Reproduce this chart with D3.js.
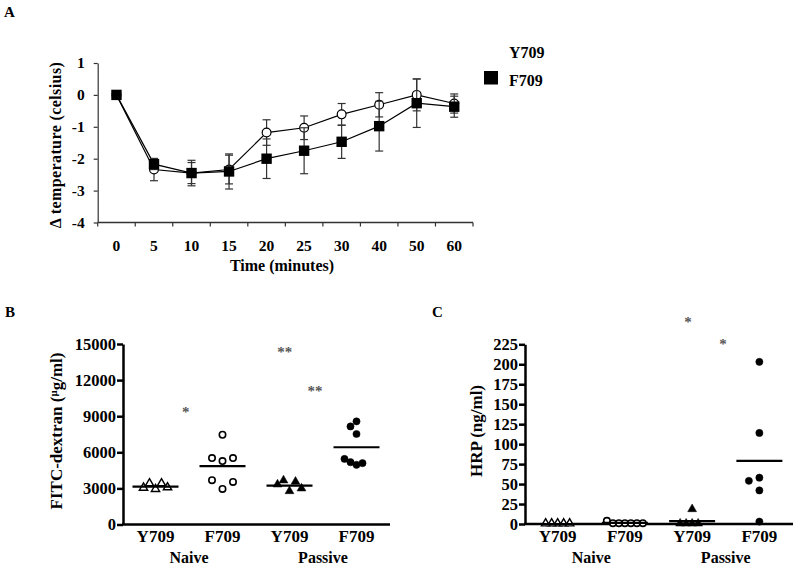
<!DOCTYPE html>
<html><head><meta charset="utf-8">
<script src="https://cdn.jsdelivr.net/npm/d3@7"></script>
<style>
body{margin:0;background:#fff}
text{font-family:"Liberation Serif","Times New Roman",serif;font-weight:bold;fill:#000}
</style>
</head><body>
<svg id="chart" width="800" height="569"></svg>
<script>
// ---------- Panel A data ----------
const timePoints = ["0","5","10","15","20","25","30","40","50","60"];
const y709Mean = [0, -2.34, -2.45, -2.34, -1.18, -1.03, -0.61, -0.31, 0.0, -0.27];
const y709Sem  = [0.05, 0.35, 0.40, 0.45, 0.40, 0.37, 0.34, 0.38, 0.50, 0.30];
const f709Mean = [0, -2.17, -2.45, -2.40, -2.00, -1.75, -1.47, -0.98, -0.26, -0.37];
const f709Sem  = [0.05, 0.17, 0.33, 0.55, 0.62, 0.72, 0.52, 0.78, 0.76, 0.33];
const tempTicks = [1, 0, -1, -2, -3, -4];
const seriesNames = ["Y709", "F709"];

// ---------- Panel B data (FITC-dextran, µg/ml) ----------
const genotypeLabels = ["Y709", "F709", "Y709", "F709"];
const treatmentLabels = ["Naive", "Passive"];
const fitcY709Naive   = [2900, 3375, 3375, 3010, 3040];
const fitcF709Naive   = [7460, 5267, 5517, 5517, 2958, 3683, 3542];
const fitcY709Passive = [2733, 3625, 3517, 3290, 2958];
const fitcF709Passive = [8570, 8150, 7520, 4960, 5180, 5100, 5450];
const fitcTicks = [0, 3000, 6000, 9000, 12000, 15000];
const fitcStars = [["*", 0.95, 9500], ["**", 2.43, 14500], ["**", 2.88, 11300]];

// ---------- Panel C data (HRP, ng/ml) ----------
const hrpY709Naive   = [0, 0, 0, 0, 0];
const hrpF709Naive   = [1, 1, 1, 1, 1, 4, 1];
const hrpY709Passive = [18, 0, 0, 0, 0];
const hrpF709Passive = [203, 114, 58, 54, 42, 3];
const hrpTicks = [0, 25, 50, 75, 100, 125, 150, 175, 200, 225];
const hrpStars = [["*", 2.44, 256], ["*", 2.96, 228]];

const svg = d3.select("#chart");

// ================= Panel A =================
svg.append("text").attr("x", 4).attr("y", 17).attr("font-size", 15).text("A");

const xA = d3.scaleBand().domain(timePoints).range([97.7, 473]).padding(0);
const yA = d3.scaleLinear().domain([-4, 1]).range([222.5, 63]);
const gA = svg.append("g");

const yAxisA = gA.append("g").attr("transform", "translate(97.7,0)")
  .call(d3.axisLeft(yA).tickValues(tempTicks).tickFormat(d => String(d)).tickSize(4).tickPadding(9).tickSizeOuter(0));
yAxisA.selectAll("path,line").attr("stroke", "#333").attr("stroke-width", 1.2);
yAxisA.selectAll("text").attr("font-size", 15.5).attr("font-family", null);

gA.append("line").attr("x1", xA.range()[0]).attr("x2", xA.range()[1])
  .attr("y1", yA(-4)).attr("y2", yA(-4)).attr("stroke", "#333").attr("stroke-width", 1.5);
d3.range(timePoints.length + 1).forEach(i => {
  const x = xA.range()[0] + i * xA.step();
  gA.append("line").attr("x1", x).attr("x2", x).attr("y1", yA(-4)).attr("y2", yA(-4) + 4)
    .attr("stroke", "#333").attr("stroke-width", 1.2);
});
gA.selectAll(".xlab").data(timePoints).join("text")
  .attr("x", d => xA(d) + xA.bandwidth() / 2).attr("y", 251)
  .attr("text-anchor", "middle").attr("font-size", 15.5).text(d => d);

gA.append("text").attr("x", 282).attr("y", 271).attr("text-anchor", "middle")
  .attr("font-size", 16).text("Time (minutes)");
gA.append("text").attr("transform", "translate(61,145) rotate(-90)")
  .attr("text-anchor", "middle").attr("font-size", 16).attr("letter-spacing", 0.4)
  .text("Δ temperature (celsius)");

function drawSeries(means, sems, kind) {
  const cx = i => xA(timePoints[i]) + xA.bandwidth() / 2;
  const line = d3.line().x((d, i) => cx(i)).y(d => yA(d));
  gA.append("path").datum(means).attr("d", line).attr("fill", "none")
    .attr("stroke", "#000").attr("stroke-width", 1.2);
  means.forEach((m, i) => {
    const x = cx(i), y1 = yA(m - sems[i]), y2 = yA(m + sems[i]);
    gA.append("line").attr("x1", x).attr("x2", x).attr("y1", y1).attr("y2", y2)
      .attr("stroke", "#333").attr("stroke-width", 1.2);
    [y1, y2].forEach(y => gA.append("line").attr("x1", x - 4).attr("x2", x + 4)
      .attr("y1", y).attr("y2", y).attr("stroke", "#333").attr("stroke-width", 1.2));
  });
  means.forEach((m, i) => {
    if (kind === "circle") {
      gA.append("circle").attr("cx", cx(i)).attr("cy", yA(m)).attr("r", 4.4)
        .attr("fill", "#fff").attr("stroke", "#000").attr("stroke-width", 1.2);
    } else {
      gA.append("rect").attr("x", cx(i) - 5.2).attr("y", yA(m) - 5.2)
        .attr("width", 10.4).attr("height", 10.4).attr("fill", "#000");
    }
  });
}
drawSeries(y709Mean, y709Sem, "circle");
drawSeries(f709Mean, f709Sem, "square");

gA.append("text").attr("x", 509).attr("y", 58).attr("font-size", 16).text(seriesNames[0]);
gA.append("rect").attr("x", 484).attr("y", 71).attr("width", 14).attr("height", 13.5).attr("fill", "#000");
gA.append("text").attr("x", 509).attr("y", 86).attr("font-size", 16).text(seriesNames[1]);

// ================= Scatter panels =================
const markerKinds = ["triangle-open", "circle-open", "triangle-filled", "circle-filled"];

function swarm(values, y, cx) {
  const order = [0, -1, 1, -2, 2, -3, 3, -4, 4];
  const placed = [];
  values.forEach(v => {
    const py = y(v);
    const k = order.find(k => !placed.some(p => p.k === k && Math.abs(p.py - py) < 12));
    placed.push({ v, py, k });
  });
  const maxK = d3.max(placed, p => Math.abs(p.k));
  const sp = maxK >= 2 ? 6 : 10.5;
  placed.forEach(p => p.x = cx + p.k * sp);
  return placed;
}

function scatterPanel(opt) {
  const g = svg.append("g");
  g.append("text").attr("x", opt.letterX).attr("y", 317).attr("font-size", 15).text(opt.letter);
  const x = d3.scaleBand().domain(d3.range(genotypeLabels.length)).range(opt.xRange).padding(0);
  const y = d3.scaleLinear().domain([0, opt.yMax]).range(opt.yRange);

  const ax = g.append("g").attr("transform", `translate(${opt.xRange[0] + 1},0)`)
    .call(d3.axisLeft(y).tickValues(opt.ticks).tickFormat(d => String(d)).tickSize(6).tickPadding(1).tickSizeOuter(0));
  ax.selectAll("path,line").attr("stroke", "#000").attr("stroke-width", 2.5);
  ax.selectAll("text").attr("font-size", 16.5).attr("font-family", null);

  g.append("line").attr("x1", opt.xRange[0]).attr("x2", opt.xRange[1])
    .attr("y1", y(0)).attr("y2", y(0)).attr("stroke", "#000").attr("stroke-width", 2.5);

  g.selectAll(".cat").data(genotypeLabels).join("text")
    .attr("x", (d, i) => x(i) + x.bandwidth() / 2).attr("y", 541.5)
    .attr("text-anchor", "middle").attr("font-size", 17).text(d => d);
  treatmentLabels.forEach((t, j) => {
    g.append("text").attr("x", x(2 * j) + x.bandwidth()).attr("y", 563)
      .attr("text-anchor", "middle").attr("font-size", 16).text(t);
  });

  opt.groups.forEach((vals, i) => {
    const cx = x(i) + x.bandwidth() / 2;
    const pts = swarm(vals, y, cx);
    const kind = markerKinds[i];
    const filled = kind.endsWith("filled");
    pts.forEach(p => {
      if (kind.startsWith("circle")) {
        g.append("circle").attr("cx", p.x).attr("cy", p.py).attr("r", filled ? 3.6 : 3.2)
          .attr("fill", filled ? "#000" : "#fff").attr("stroke", "#000").attr("stroke-width", filled ? 0.5 : 1.6);
      } else {
        g.append("path").attr("d", d3.symbol(d3.symbolTriangle, filled ? 34 : 30)())
          .attr("transform", `translate(${p.x},${p.py - 0.5})`)
          .attr("fill", filled ? "#000" : "#fff").attr("stroke", "#000").attr("stroke-width", filled ? 0.5 : 1.4);
      }
    });
    const m = d3.mean(vals);
    g.append("line").attr("x1", cx - 23).attr("x2", cx + 23).attr("y1", y(m)).attr("y2", y(m))
      .attr("stroke", "#000").attr("stroke-width", 2.2);
  });

  opt.stars.forEach(([s, pos, v]) => {
    g.append("text").attr("x", opt.xRange[0] + pos * x.bandwidth()).attr("y", y(v) + 7)
      .attr("text-anchor", "middle").attr("font-size", 15).attr("font-weight", "normal")
      .attr("opacity", 0.99).style("fill", "#555").text(s);
  });

  const lab = g.append("text").attr("transform", `translate(${opt.labelX},${opt.labelY}) rotate(-90)`)
    .attr("text-anchor", "middle").attr("font-size", 17);
  opt.label(lab);
}

scatterPanel({
  letter: "B", letterX: 5,
  xRange: [122, 390], yRange: [524.5, 344], yMax: 15000, ticks: fitcTicks,
  groups: [fitcY709Naive, fitcF709Naive, fitcY709Passive, fitcF709Passive],
  stars: fitcStars, labelX: 62, labelY: 431,
  label: t => {
    t.append("tspan").text("FITC-dextran (");
    t.append("tspan").attr("font-size", 11).attr("dy", -5).text("μ");
    t.append("tspan").attr("dy", 5).text("g/ml)");
  }
});

scatterPanel({
  letter: "C", letterX: 432,
  xRange: [524, 793], yRange: [524, 344.3], yMax: 225, ticks: hrpTicks,
  groups: [hrpY709Naive, hrpF709Naive, hrpY709Passive, hrpF709Passive],
  stars: hrpStars, labelX: 482, labelY: 431,
  label: t => t.text("HRP (ng/ml)")
});
</script>
</body></html>
